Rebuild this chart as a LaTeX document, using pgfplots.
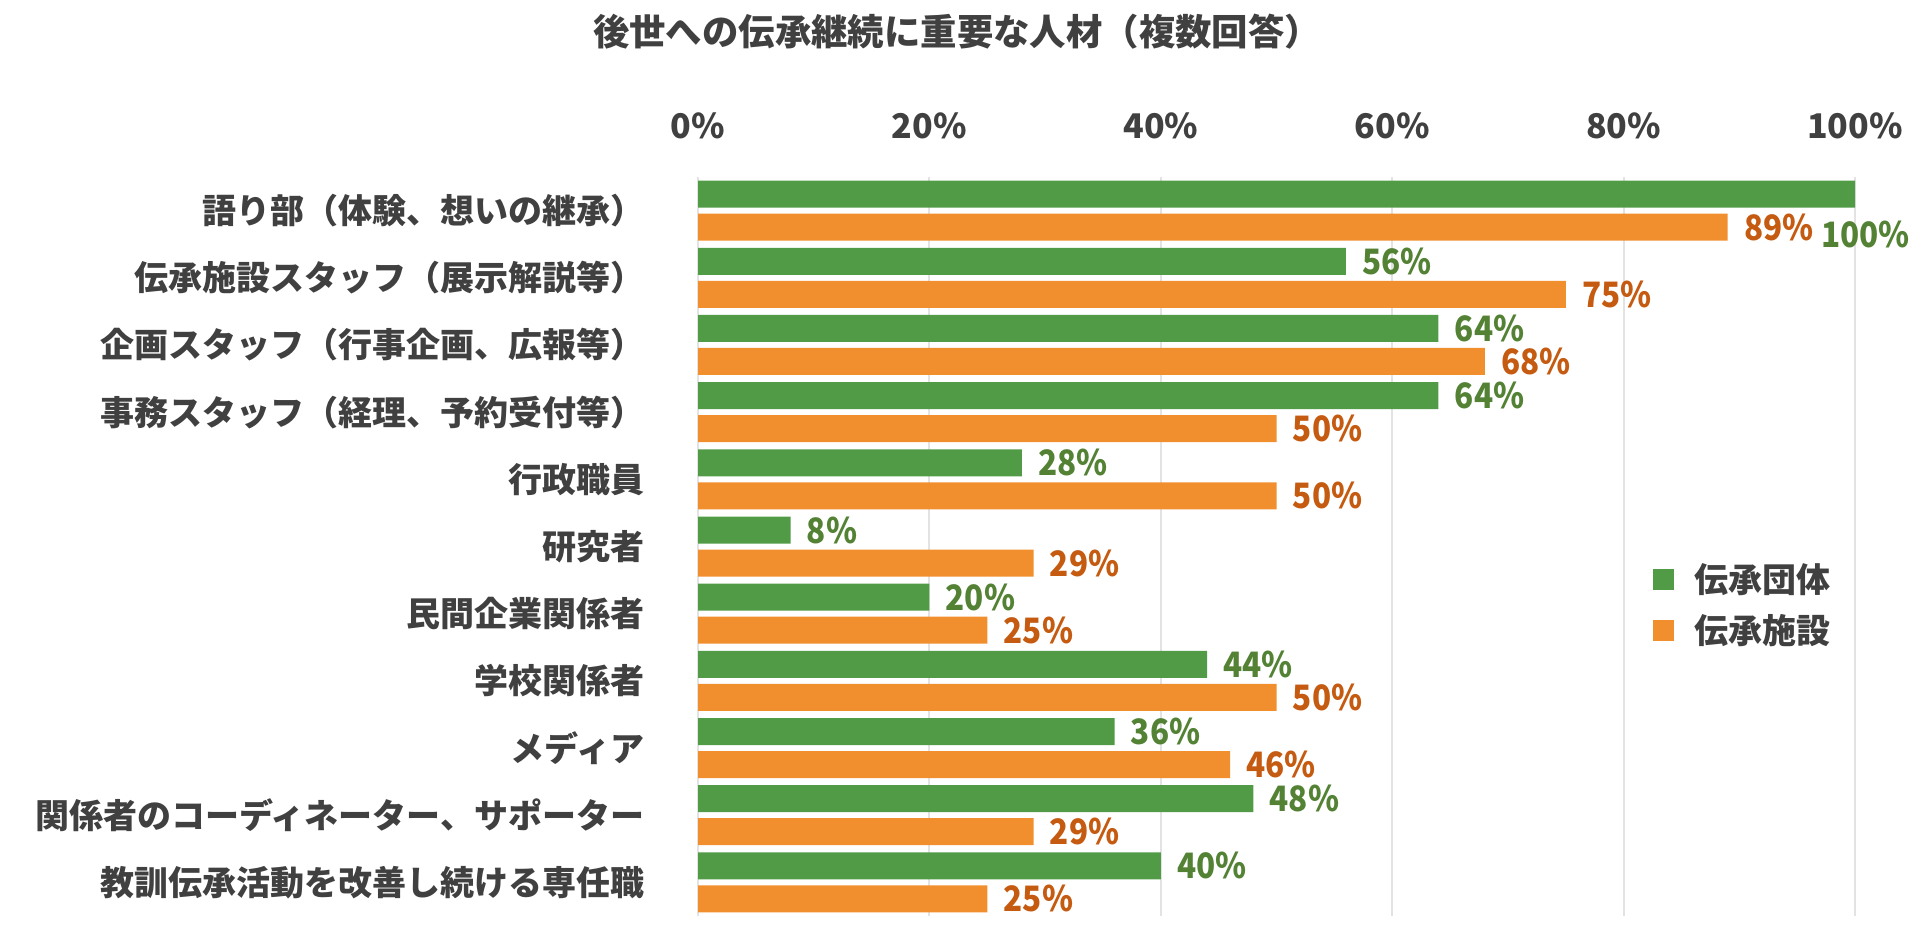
\documentclass[border=0pt]{standalone}
\usepackage{fontspec}
\setmainfont{Noto Sans CJK JP}
\newfontfamily\numfont{Noto Sans CJK JP}[FakeStretch=0.9]
\usepackage{pgfplots}
\usepackage{pgfplotstable}
\pgfplotsset{compat=1.18}
\definecolor{gbar}{HTML}{519B46}
\definecolor{obar}{HTML}{F18F2E}
\definecolor{glab}{HTML}{548235}
\definecolor{olab}{HTML}{C55A11}
\definecolor{txt}{HTML}{404040}
\definecolor{gridc}{HTML}{E3E3E3}

% y = category position (10 = top), x = percent, dx/dy = label offsets in pt
\pgfplotstableread{
y x dx dy
10 100 -17 -20.25
9 56 8 0
8 64 8 0
7 64 8 0
6 28 8 0
5 8 8 0
4 20 8 0
3 44 8 0
2 36 8 0
1 48 8 0
0 40 8 0
}\dantai

\pgfplotstableread{
y x dx dy
10 89 8 0
9 75 8 0
8 68 8 0
7 50 8 0
6 50 8 0
5 29 8 0
4 25 8 0
3 50 8 0
2 46 8 0
1 29 8 0
0 25 8 0
}\shisetsu

\newcommand{\bigf}{\fontsize{17}{20}\selectfont\bfseries}
\newcommand{\labf}{\numfont\fontsize{17.5}{20}\selectfont\bfseries}

\begin{document}
\begin{tikzpicture}[font=\bigf]
\path[use as bounding box] (0,0) rectangle (960pt,466.5pt);
\begin{axis}[
  at={(349pt,8.5pt)}, anchor=south west,
  scale only axis, width=578.5pt, height=369.5pt,
  xbar, bar width=13.5pt,
  xmin=0, xmax=100, ymin=-0.5, ymax=10.5,
  clip=false,
  /pgf/number format/assume math mode=true,
  xtick={0,20,40,60,80,100},
  xticklabels={0\%,20\%,40\%,60\%,80\%,100\%},
  xticklabel pos=upper,
  ytick={0,1,2,3,4,5,6,7,8,9,10},
  yticklabels={教訓伝承活動を改善し続ける専任職,関係者のコーディネーター、サポーター,メディア,学校関係者,民間企業関係者,研究者,行政職員,事務スタッフ（経理、予約受付等）,企画スタッフ（行事企画、広報等）,伝承施設スタッフ（展示解説等）,語り部（体験、想いの継承）},
  axis line style={draw=none},
  major tick length=0pt,
  xmajorgrids, ymajorgrids=false,
  grid style={gridc, line width=1pt},
  tick label style={text=txt, font=\bigf},
  xticklabel style={anchor=south, inner sep=0pt, yshift=19pt},
  yticklabel style={anchor=east, inner sep=0pt, xshift=-26.5pt},
  title={後世への伝承継続に重要な人材（複数回答）},
  title style={at={(0.224,1.181)}, anchor=center, font=\fontsize{18.2}{21}\selectfont\bfseries, text=txt},
  legend style={draw=none, fill=none, at={(0.8254,0.478)}, anchor=north west,
    inner sep=0pt, row sep=9.5pt, font=\bigf, text=txt,
    nodes={inner sep=0pt, anchor=west}, column sep=10pt},
  legend cell align=left,
  nodes near coords={\pgfmathprintnumber{\pgfplotspointmeta}\%},
  point meta=x,
]
\addplot[fill=gbar, draw=none, bar shift=8.25pt,
  visualization depends on={\thisrow{dx} \as \dx},
  visualization depends on={\thisrow{dy} \as \dy},
  every node near coord/.append style={anchor=west, inner sep=0pt, xshift=\dx pt, yshift=\dy pt, text=glab, font=\labf},
  legend image code/.code={\fill[gbar] (0pt,-5.25pt) rectangle (10.5pt,5.25pt);}
] table[x=x, y=y] {\dantai};
\addlegendentry{伝承団体}
\addplot[fill=obar, draw=none, bar shift=-8.25pt,
  visualization depends on={\thisrow{dx} \as \dx},
  visualization depends on={\thisrow{dy} \as \dy},
  every node near coord/.append style={anchor=west, inner sep=0pt, xshift=\dx pt, yshift=\dy pt, text=olab, font=\labf},
  legend image code/.code={\fill[obar] (0pt,-5.25pt) rectangle (10.5pt,5.25pt);}
] table[x=x, y=y] {\shisetsu};
\addlegendentry{伝承施設}
\end{axis}
\end{tikzpicture}
\end{document}
